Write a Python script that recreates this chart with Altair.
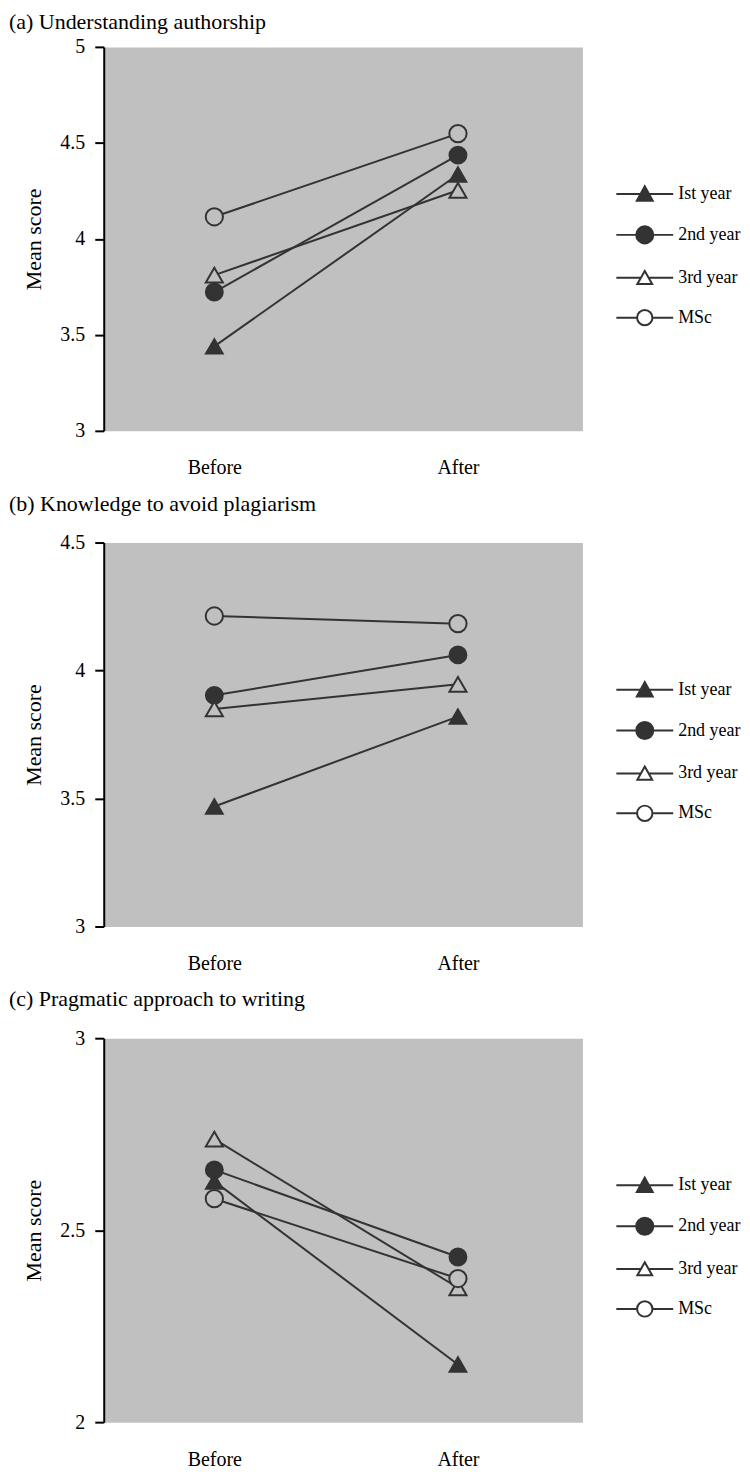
import altair as alt
import pandas as pd

groups = ["Ist year", "2nd year", "3rd year", "MSc"]
time_labels = ["Before", "After"]
time_pos = [0, 1]
panel_titles = [
    "(a) Understanding authorship",
    "(b) Knowledge to avoid plagiarism",
    "(c) Pragmatic approach to writing",
]
a_before = [3.44, 3.723, 3.811, 4.115]
a_after = [4.335, 4.436, 4.253, 4.548]
b_before = [3.469, 3.903, 3.85, 4.213]
b_after = [3.82, 4.061, 3.946, 4.183]
c_before = [2.627, 2.657, 2.737, 2.582]
c_after = [2.15, 2.43, 2.35, 2.374]
y_domains = [[3, 5], [3, 4.5], [2, 3]]
y_ticks = [[3, 3.5, 4, 4.5, 5], [3, 3.5, 4, 4.5], [2, 2.5, 3]]

befores = [a_before, b_before, c_before]
afters = [a_after, b_after, c_after]

rows = []
for p in range(3):
    for g, vb, va in zip(groups, befores[p], afters[p]):
        rows.append(dict(panel=p, group=g, t=time_pos[0], value=vb))
        rows.append(dict(panel=p, group=g, t=time_pos[1], value=va))
df = pd.DataFrame(rows)

DARK = "#333333"
GRAY = "#c0c0c0"
FONT = "Liberation Serif"

# legend symbols: a line with the marker on it (unit space [-1,1])
legend_paths = [
    "M-1,0H1M0,-0.27L0.28,0.24L-0.28,0.24Z",
    "M-1,0H1M-0.3,0A0.3,0.3 0 1,0 0.3,0A0.3,0.3 0 1,0 -0.3,0Z",
    "M-1,0H-0.15M0.15,0H1M0,-0.24L0.26,0.22L-0.26,0.22Z",
    "M-1,0H-0.27M0.27,0H1M-0.27,0A0.27,0.27 0 1,0 0.27,0A0.27,0.27 0 1,0 -0.27,0Z",
]

title_offsets = [3, 17, 17]
label_texts = "datum.value == 0 ? '%s' : '%s'" % (time_labels[0], time_labels[1])


def panel(i):
    d = df[df.panel == i]
    base = alt.Chart(d)
    x = alt.X(
        "t:Q",
        scale=alt.Scale(domain=[-0.454, 1.511], nice=False, zero=False),
        axis=alt.Axis(
            values=time_pos,
            labelExpr=label_texts,
            domain=False,
            ticks=False,
            grid=False,
            labelFontSize=20,
            labelPadding=27,
            labelColor="black",
            labelFont=FONT,
            title=None,
        ),
    )
    y = alt.Y(
        "value:Q",
        scale=alt.Scale(domain=y_domains[i], nice=False, zero=False),
        axis=alt.Axis(
            values=y_ticks[i],
            format="~g",
            grid=False,
            domainColor="black",
            domainWidth=2,
            tickColor="black",
            tickWidth=2,
            tickSize=9,
            labelFontSize=20,
            labelPadding=10,
            labelColor="black",
            labelFont=FONT,
            title="Mean score",
            titleFontSize=22,
            titleFontWeight="normal",
            titleFont=FONT,
            titleColor="black",
            titlePadding=14,
        ),
    )
    lines = base.mark_line(color=DARK, strokeWidth=2).encode(
        x=x, y=y, detail="group:N"
    )
    pts = base.mark_point(filled=True, stroke=DARK, strokeWidth=2, opacity=1).encode(
        x=x,
        y=y,
        shape=alt.Shape(
            "group:N",
            scale=alt.Scale(
                domain=groups,
                range=["triangle-up", "circle", "triangle-up", "circle"],
            ),
            legend=None,
        ),
        fill=alt.Fill(
            "group:N",
            scale=alt.Scale(domain=groups, range=[DARK, DARK, GRAY, GRAY]),
            legend=None,
        ),
        size=alt.Size(
            "group:N",
            scale=alt.Scale(domain=groups, range=[280, 300, 220, 180]),
            legend=None,
        ),
    )
    leg_props = dict(
        title=None,
        orient="none",
        legendX=513,
        legendY=118,
        symbolSize=3249,
        symbolStrokeWidth=2,
        symbolStrokeColor=DARK,
        symbolOpacity=1,
        labelFontSize=18,
        labelFont=FONT,
        labelColor="black",
        labelOffset=4,
        rowPadding=-8,
    )
    leg = (
        base.transform_filter(alt.datum.t < -100)
        .mark_point(filled=False, color=DARK, strokeWidth=2)
        .encode(
            x=x,
            y=y,
            shape=alt.Shape(
                "group:N",
                scale=alt.Scale(domain=groups, range=legend_paths),
                legend=alt.Legend(**leg_props),
            ),
            fill=alt.Fill(
                "group:N",
                scale=alt.Scale(domain=groups, range=[DARK, DARK, "white", "white"]),
                legend=alt.Legend(**leg_props),
            ),
            stroke=alt.Stroke(
                "group:N",
                scale=alt.Scale(domain=groups, range=[DARK, DARK, DARK, DARK]),
                legend=alt.Legend(**leg_props),
            ),
        )
    )
    return (
        alt.layer(lines, pts, leg)
        .resolve_scale(
            shape="independent", fill="independent", size="independent", stroke="independent"
        )
        .properties(
            width=480,
            height=385,
            title=alt.TitleParams(
                panel_titles[i],
                anchor="start",
                frame="group",
                dx=-95,
                offset=title_offsets[i],
                fontSize=22,
                fontWeight="normal",
                font=FONT,
                color="black",
            ),
        )
    )


chart = (
    alt.vconcat(panel(0), panel(1), panel(2), spacing=13)
    .resolve_scale(
        shape="independent", fill="independent", size="independent", stroke="independent"
    )
    .properties(padding=0)
    .configure(font=FONT)
    .configure_view(fill=GRAY, stroke="transparent")
)

chart.save("out.html", embed_options={"renderer": "svg", "actions": False})
